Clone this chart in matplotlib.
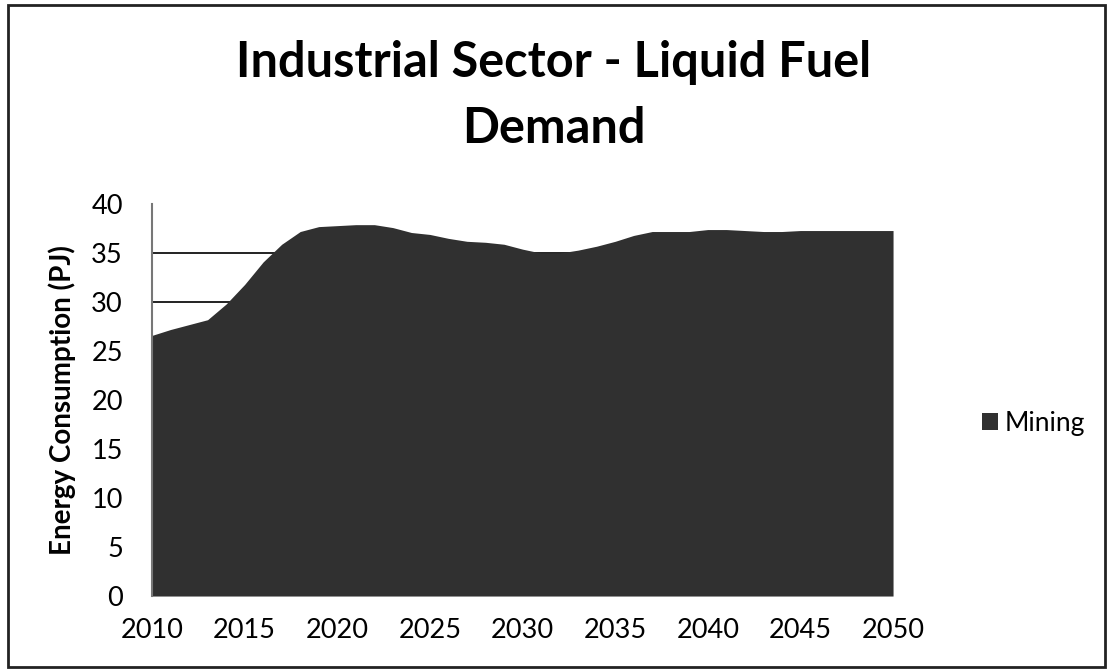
import matplotlib.pyplot as plt
import numpy as np
from matplotlib.patches import Rectangle

plt.rcParams['font.family'] = ['Lato', 'DejaVu Sans']

years = list(range(2010, 2051))
mining = [26.6, 27.2, 27.7, 28.2, 29.8, 31.8, 34.1, 35.9, 37.2, 37.7,
          37.8, 37.9, 37.9, 37.6, 37.1, 36.9, 36.5, 36.2, 36.1, 35.9,
          35.4, 35.0, 35.0, 35.3, 35.7, 36.2, 36.8, 37.2, 37.2, 37.2,
          37.4, 37.4, 37.3, 37.2, 37.2, 37.3, 37.3, 37.3, 37.3, 37.3, 37.3]
xticks = list(range(2010, 2051, 5))
yticks = list(range(0, 41, 5))

fig = plt.figure(figsize=(11.08, 6.70), dpi=100)
ax = fig.add_axes([0.1372, 0.1104, 0.6688, 0.585])

# gridlines, mostly hidden behind the area
for yv in yticks[1:-1]:
    ax.axhline(yv, color='#111111', lw=1.3, zorder=1)

ax.fill_between(years, mining, 0, color='#303030', lw=0, zorder=2, label='Mining')

ax.set_xlim(2010, 2050)
ax.set_ylim(0, 40)
ax.set_xticks(xticks)
ax.set_yticks(yticks)
ax.tick_params(axis='both', length=0, labelsize=19.5)
ax.tick_params(axis='x', pad=16)
ax.tick_params(axis='y', pad=21)
for s in ['top', 'right', 'bottom']:
    ax.spines[s].set_visible(False)
ax.spines['left'].set_color('#777777')
ax.spines['left'].set_linewidth(1.5)

ax.set_ylabel('Energy Consumption (PJ)', fontsize=20, fontweight='bold', labelpad=11)

fig.text(0.5, 0.885, 'Industrial Sector - Liquid Fuel', ha='center', va='baseline',
         fontsize=35, fontweight='bold')
fig.text(0.5, 0.787, 'Demand', ha='center', va='baseline',
         fontsize=35, fontweight='bold')

leg = ax.legend(loc='center left', bbox_to_anchor=(1.12, 0.44), frameon=False,
                fontsize=19, handlelength=0.6, handleheight=0.6, handletextpad=0.25,
                borderaxespad=0, borderpad=0)

fig.patches.append(Rectangle((0.007, 0.004), 0.99, 0.988, transform=fig.transFigure,
                             fill=False, edgecolor='#222222', lw=2))

fig.savefig('out.png', dpi=100)
